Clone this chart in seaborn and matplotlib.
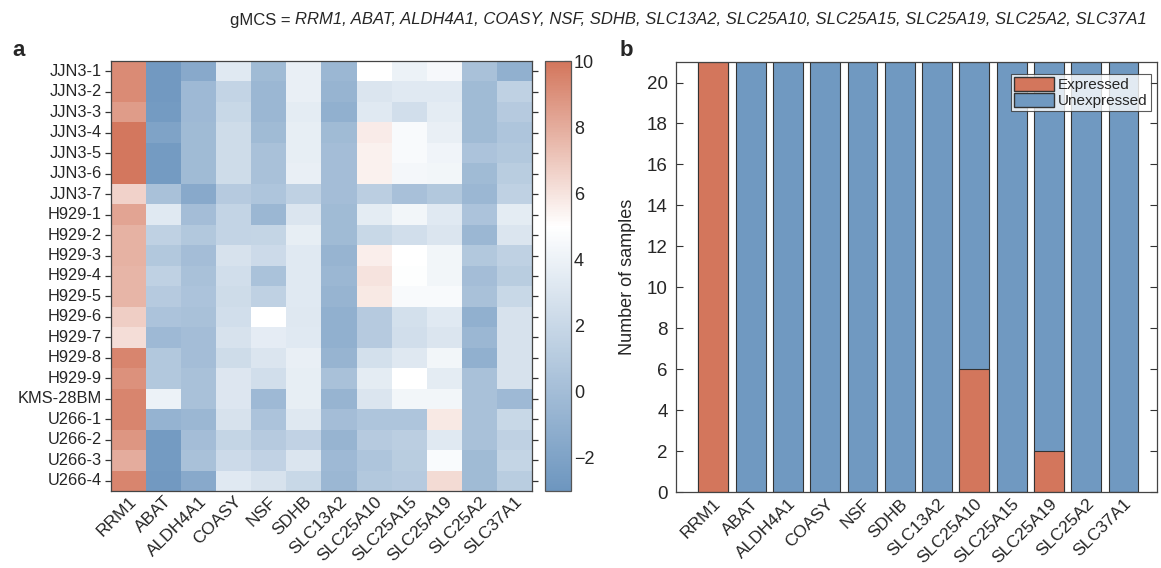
import numpy as np
import pandas as pd
import matplotlib
matplotlib.use("Agg")
import matplotlib.pyplot as plt
import seaborn as sns
from matplotlib.colors import LinearSegmentedColormap
from matplotlib.patches import Patch

genes = ["RRM1", "ABAT", "ALDH4A1", "COASY", "NSF", "SDHB", "SLC13A2",
         "SLC25A10", "SLC25A15", "SLC25A19", "SLC25A2", "SLC37A1"]
samples = ["JJN3-1", "JJN3-2", "JJN3-3", "JJN3-4", "JJN3-5", "JJN3-6", "JJN3-7",
           "H929-1", "H929-2", "H929-3", "H929-4", "H929-5", "H929-6", "H929-7",
           "H929-8", "H929-9", "KMS-28BM", "U266-1", "U266-2", "U266-3", "U266-4"]

# expression per gene (rows in sample order)
rrm1 = [9.2, 9.2, 8.6, 9.9, 9.9, 9.9, 6.6, 8.3, 7.8, 7.8, 7.7, 7.7, 6.8, 6.2, 9.4, 9.0, 9.4, 9.4, 8.8, 8.0, 9.4]
abat = [-2.7, -2.7, -2.6, -2.0, -2.6, -2.6, 0.3, 3.3, 1.5, 0.8, 1.5, 1.0, 0.5, -0.3, 0.8, 0.8, 4.0, -0.8, -2.6, -2.6, -2.7]
aldh4a1 = [-1.5, -0.3, -0.3, -0.2, -0.2, -0.2, -1.5, 0.0, 0.8, 0.0, 0.3, 0.5, 0.3, 0.0, 0.0, 0.3, 0.3, -0.5, 0.0, 0.3, -1.5]
coasy = [3.3, 1.7, 2.0, 2.3, 2.3, 2.3, 1.0, 1.7, 1.7, 2.8, 2.5, 2.3, 2.5, 2.8, 2.3, 3.1, 3.1, 2.8, 1.8, 2.2, 3.3]
nsf = [-0.2, -0.5, -0.5, -0.2, 0.3, 0.3, 0.6, -0.5, 1.8, 2.2, 0.4, 1.5, 5.0, 3.6, 3.0, 2.5, -0.3, 0.5, 1.0, 1.6, 2.8]
sdhb = [3.8, 3.8, 3.5, 3.7, 3.7, 3.8, 1.5, 3.0, 3.7, 3.3, 3.3, 3.3, 3.2, 3.3, 3.8, 3.7, 3.7, 3.2, 1.6, 3.0, 2.0]
slc13a2 = [-0.5, -0.7, -1.0, -0.2, 0.0, 0.0, 0.0, -0.2, -0.2, -0.7, -0.5, -0.7, -1.0, -1.0, -0.7, 0.3, -0.7, 0.0, -0.7, -0.3, -0.5]
slc25a10 = [5.0, 3.0, 3.3, 5.7, 5.5, 5.5, 1.3, 3.5, 2.0, 5.6, 6.0, 5.8, 1.0, 1.0, 2.6, 3.5, 3.0, 0.6, 1.0, 0.6, 0.8]
slc25a15 = [4.0, 3.3, 2.5, 4.6, 4.6, 4.4, 0.2, 4.3, 2.5, 5.0, 4.9, 4.6, 2.6, 2.5, 3.2, 5.0, 4.3, 0.6, 1.3, 1.2, 1.0]
slc25a19 = [4.5, 3.3, 3.5, 3.8, 4.2, 4.3, 0.8, 3.3, 3.0, 4.3, 4.3, 4.6, 3.3, 3.0, 4.3, 3.5, 4.3, 5.8, 3.3, 4.7, 6.3]
slc25a2 = [0.3, -0.2, -0.2, -0.2, 0.5, -0.2, -0.5, 0.5, -0.5, 0.8, 0.0, 0.3, -1.0, -0.5, -1.0, 0.3, 0.3, 0.3, 0.3, -0.2, -0.2]
slc37a1 = [-1.0, 1.5, 1.0, 0.6, 0.8, 1.2, 1.5, 3.5, 3.0, 1.5, 1.2, 2.0, 2.8, 2.8, 2.8, 2.8, -0.3, 2.0, 1.5, 1.8, 1.2]

expressed = [21, 0, 0, 0, 0, 0, 0, 6, 0, 2, 0, 0]
unexpressed = [0, 21, 21, 21, 21, 21, 21, 15, 21, 19, 21, 21]

cbar_ticks = [-2, 0, 2, 4, 6, 8, 10]
bar_yticks = [0, 2, 4, 6, 8, 10, 12, 14, 16, 18, 20]

sns.set_theme(style="white")
plt.rcParams['font.family'] = ['Liberation Sans', 'DejaVu Sans']

RED = "#d3765c"
BLUE = "#7099c1"
EDGE = "#333333"
cmap = LinearSegmentedColormap.from_list("rb", [(0.0, "#6d96bf"), (8 / 13, "#ffffff"), (1.0, RED)])

fig = plt.figure(figsize=(11.61, 5.68), dpi=100)
ax1 = fig.add_axes([0.0956, 0.1356, 0.3626, 0.757])
cax = fig.add_axes([0.4694, 0.1356, 0.0224, 0.757])
ax2 = fig.add_axes([0.5823, 0.1338, 0.4143, 0.757])

# ---- panel a: heatmap ----
df = pd.DataFrame(np.column_stack([rrm1, abat, aldh4a1, coasy, nsf, sdhb, slc13a2,
                                   slc25a10, slc25a15, slc25a19, slc25a2, slc37a1]),
                  index=samples, columns=genes)
sns.heatmap(df, ax=ax1, cbar_ax=cax, cmap=cmap, vmin=-3, vmax=10,
            cbar_kws={"ticks": cbar_ticks})
for s in ax1.spines.values():
    s.set_visible(True)
    s.set_color("#444444")
    s.set_linewidth(0.9)
ax1.tick_params(axis="y", direction="inout", length=9, width=0.9, color="#333333",
                left=True, right=True, labelsize=11.8, pad=2)
ax1.tick_params(axis="x", direction="in", length=4, width=0.8, color="#333333",
                bottom=True, top=True, labelsize=12.5, pad=2)
ax1.set_yticklabels(samples, rotation=0)
ax1.set_xticklabels(genes, rotation=45, ha="right", rotation_mode="anchor")
ax1.set_xlabel("")
ax1.set_ylabel("")

cax.tick_params(direction="in", length=5, width=0.8, color="#333333", labelsize=13, pad=2)
cax.yaxis.set_ticks_position("right")
cbar = ax1.collections[0].colorbar
cbar.outline.set_edgecolor("#555555")
cbar.outline.set_linewidth(0.9)
cbar.ax.set_yticklabels(["\u22122", "0", "2", "4", "6", "8", "10"])

# ---- panel b: stacked bars ----
totals = [e + u for e, u in zip(expressed, unexpressed)]
sns.barplot(x=genes, y=totals, color=BLUE, saturation=1, width=0.8,
            edgecolor=EDGE, linewidth=0.8, ax=ax2)
sns.barplot(x=genes, y=expressed, color=RED, saturation=1, width=0.8,
            edgecolor=EDGE, linewidth=0.8, ax=ax2)
ax2.set_xlim(-1, 11.9)
ax2.set_ylim(0, 21)
ax2.set_yticks(bar_yticks)
ax2.set_ylabel("Number of samples", fontsize=13, labelpad=8)
ax2.set_xlabel("")
ax2.tick_params(axis="y", direction="in", length=5, width=0.8, color="#333333",
                left=True, right=True, labelsize=13.5, pad=6)
ax2.tick_params(axis="x", length=0, labelsize=12.5, pad=3)
ax2.set_xticks(range(len(genes)))
ax2.set_xticklabels(genes, rotation=45, ha="right", rotation_mode="anchor")
for s in ax2.spines.values():
    s.set_color("#444444")
    s.set_linewidth(0.9)
handles = [Patch(facecolor=RED, edgecolor=EDGE, label="Expressed"),
           Patch(facecolor=BLUE, edgecolor=EDGE, label="Unexpressed")]
leg = ax2.legend(handles=handles, loc="upper right", bbox_to_anchor=(0.987, 0.972),
                 frameon=True, fancybox=False, edgecolor=EDGE, fontsize=11,
                 borderpad=0.2, handlelength=2.6, handleheight=1.0,
                 labelspacing=0.05, handletextpad=0.3, borderaxespad=0)
leg.get_frame().set_linewidth(0.8)

# ---- titles / panel letters ----
t1 = fig.text(230 / 1161, 1 - 20 / 568, "gMCS = ", fontsize=12, va="center", ha="left")
fig.canvas.draw()
ax1.annotate("RRM1, ABAT, ALDH4A1, COASY, NSF, SDHB, SLC13A2, SLC25A10, "
             "SLC25A15, SLC25A19, SLC25A2, SLC37A1",
             xy=(1, 0.5), xycoords=t1, va="center", ha="left",
             fontsize=12, style="italic", annotation_clip=False)
fig.text(12 / 1161, 1 - 50 / 568, "a", fontsize=16, fontweight="bold", va="center", ha="left")
fig.text(620 / 1161, 1 - 50 / 568, "b", fontsize=16, fontweight="bold", va="center", ha="left")

fig.savefig("out.png", dpi=100)
